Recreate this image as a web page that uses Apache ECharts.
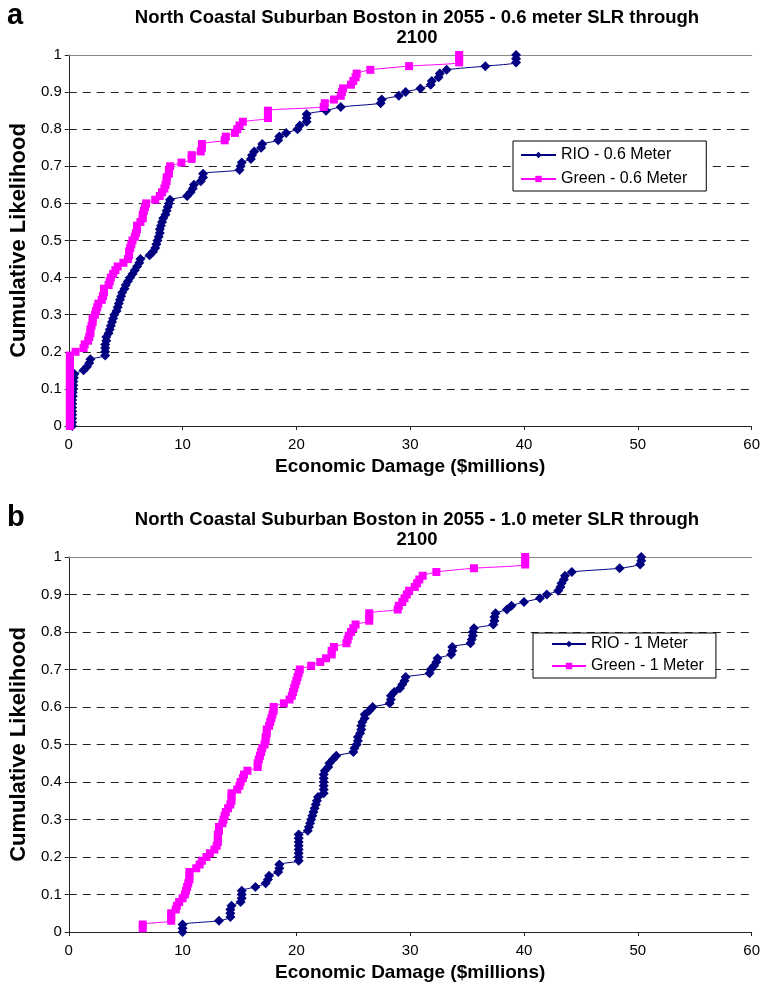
<!DOCTYPE html>
<html><head><meta charset="utf-8">
<script src="https://cdn.jsdelivr.net/npm/echarts@6/dist/echarts.min.js"></script>
<style>html,body{margin:0;padding:0;background:#fff}#c{width:763px;height:989px}</style>
</head><body><div id="c"></div>
<script>
const titleA = "North Coastal Suburban Boston in 2055 - 0.6 meter SLR through\n2100";
const titleB = "North Coastal Suburban Boston in 2055 - 1.0 meter SLR through\n2100";
const xAxisName = "Economic Damage ($millions)";
const yAxisName = "Cumulative Likelihood";
const seriesNamesA = ["RIO - 0.6 Meter", "Green - 0.6 Meter"];
const seriesNamesB = ["RIO - 1 Meter", "Green - 1 Meter"];

const rioA = [[0.3,0],[0.3,0.01],[0.3,0.02],[0.3,0.03],[0.3,0.04],[0.3,0.05],[0.3,0.06],[0.3,0.07],[0.35,0.08],[0.35,0.09],[0.4,0.10],[0.4,0.11],[0.4,0.12],[0.45,0.13],[0.5,0.14],[1.3,0.15],[1.6,0.16],[1.8,0.17],[1.9,0.18],[3.2,0.19],[3.2,0.20],[3.2,0.21],[3.2,0.22],[3.3,0.23],[3.3,0.24],[3.5,0.25],[3.6,0.26],[3.7,0.27],[3.8,0.28],[3.9,0.29],[4.0,0.30],[4.2,0.31],[4.3,0.32],[4.4,0.33],[4.5,0.34],[4.6,0.35],[4.7,0.36],[4.9,0.37],[5.0,0.38],[5.2,0.39],[5.4,0.40],[5.6,0.41],[5.8,0.42],[6.0,0.43],[6.2,0.44],[6.3,0.45],[7.1,0.46],[7.4,0.47],[7.6,0.48],[7.7,0.49],[7.8,0.50],[7.9,0.51],[8.0,0.52],[8.0,0.53],[8.1,0.54],[8.2,0.55],[8.3,0.56],[8.5,0.57],[8.6,0.58],[8.7,0.59],[8.8,0.60],[8.9,0.61],[10.4,0.62],[10.7,0.63],[10.9,0.64],[11.0,0.65],[11.6,0.66],[11.8,0.67],[11.8,0.68],[15.0,0.69],[15.1,0.70],[15.2,0.71],[16.0,0.72],[16.1,0.73],[16.3,0.74],[16.9,0.75],[17.0,0.76],[18.4,0.77],[18.5,0.78],[19.1,0.79],[20.1,0.80],[20.3,0.81],[20.9,0.82],[20.9,0.83],[20.9,0.84],[22.6,0.85],[23.9,0.86],[27.4,0.87],[27.5,0.88],[29.0,0.89],[29.6,0.90],[30.9,0.91],[31.8,0.92],[31.9,0.93],[32.5,0.94],[32.6,0.95],[33.2,0.96],[36.6,0.97],[39.3,0.98],[39.3,0.99],[39.3,1.0]];

const greenA = [[0.1,0],[0.1,0.01],[0.1,0.02],[0.1,0.03],[0.1,0.04],[0.1,0.05],[0.1,0.06],[0.1,0.07],[0.1,0.08],[0.1,0.09],[0.1,0.10],[0.1,0.11],[0.1,0.12],[0.1,0.13],[0.1,0.14],[0.1,0.15],[0.1,0.16],[0.1,0.17],[0.1,0.18],[0.1,0.19],[0.6,0.20],[1.3,0.21],[1.4,0.22],[1.7,0.23],[1.8,0.24],[1.9,0.25],[1.9,0.26],[2.0,0.27],[2.1,0.28],[2.1,0.29],[2.3,0.30],[2.4,0.31],[2.5,0.32],[2.6,0.33],[2.9,0.34],[3.0,0.35],[3.1,0.36],[3.1,0.37],[3.5,0.38],[3.6,0.39],[3.7,0.40],[3.9,0.41],[4.1,0.42],[4.3,0.43],[4.8,0.44],[5.2,0.45],[5.3,0.46],[5.3,0.47],[5.4,0.48],[5.5,0.49],[5.6,0.50],[5.8,0.51],[5.9,0.52],[6.0,0.53],[6.0,0.54],[6.3,0.55],[6.5,0.56],[6.5,0.57],[6.6,0.58],[6.7,0.59],[6.8,0.60],[7.6,0.61],[8.0,0.62],[8.2,0.63],[8.4,0.64],[8.5,0.65],[8.6,0.66],[8.6,0.67],[8.8,0.68],[8.8,0.69],[8.9,0.70],[9.9,0.71],[10.8,0.72],[10.8,0.73],[11.6,0.74],[11.7,0.75],[11.7,0.76],[13.7,0.77],[13.8,0.78],[14.6,0.79],[14.8,0.80],[15.0,0.81],[15.3,0.82],[17.5,0.83],[17.5,0.84],[17.5,0.85],[22.4,0.86],[22.5,0.87],[23.3,0.88],[23.9,0.89],[24.0,0.90],[24.1,0.91],[24.8,0.92],[25.0,0.93],[25.2,0.94],[25.3,0.95],[26.5,0.96],[29.9,0.97],[34.3,0.98],[34.3,0.99],[34.3,1.0]];

const rioB = [[10.0,0.0],[10.0,0.01],[10.0,0.02],[13.2,0.03],[14.2,0.04],[14.2,0.05],[14.2,0.06],[14.3,0.07],[15.1,0.08],[15.2,0.09],[15.2,0.10],[15.2,0.11],[16.4,0.12],[17.3,0.13],[17.5,0.14],[17.6,0.15],[18.4,0.16],[18.5,0.17],[18.5,0.18],[20.2,0.19],[20.2,0.20],[20.2,0.21],[20.2,0.22],[20.2,0.23],[20.2,0.24],[20.2,0.25],[20.2,0.26],[21.0,0.27],[21.1,0.28],[21.2,0.29],[21.3,0.30],[21.4,0.31],[21.5,0.32],[21.6,0.33],[21.7,0.34],[21.8,0.35],[21.9,0.36],[22.4,0.37],[22.4,0.38],[22.4,0.39],[22.4,0.40],[22.4,0.41],[22.4,0.42],[22.5,0.43],[22.8,0.44],[22.9,0.45],[23.2,0.46],[23.5,0.47],[25.0,0.48],[25.1,0.49],[25.3,0.50],[25.4,0.51],[25.4,0.52],[25.6,0.53],[25.7,0.54],[25.7,0.55],[25.8,0.56],[26.0,0.57],[26.0,0.58],[26.4,0.59],[26.7,0.60],[28.2,0.61],[28.3,0.62],[28.3,0.63],[28.6,0.64],[29.1,0.65],[29.3,0.66],[29.5,0.67],[29.6,0.68],[31.7,0.69],[31.8,0.70],[32.1,0.71],[32.3,0.72],[32.4,0.73],[33.6,0.74],[33.7,0.75],[33.7,0.76],[35.3,0.77],[35.4,0.78],[35.5,0.79],[35.5,0.80],[35.6,0.81],[37.3,0.82],[37.4,0.83],[37.4,0.84],[37.5,0.85],[38.5,0.86],[38.9,0.87],[40.0,0.88],[41.4,0.89],[42.0,0.90],[43.0,0.91],[43.2,0.92],[43.3,0.93],[43.5,0.94],[43.6,0.95],[44.2,0.96],[48.4,0.97],[50.2,0.98],[50.3,0.99],[50.3,1.0]];

const greenB = [[6.5,0.01],[6.5,0.02],[9.0,0.03],[9.0,0.04],[9.0,0.05],[9.4,0.06],[9.5,0.07],[9.7,0.08],[10.0,0.09],[10.2,0.10],[10.3,0.11],[10.4,0.12],[10.5,0.13],[10.6,0.14],[10.6,0.15],[10.6,0.16],[11.2,0.17],[11.5,0.18],[11.7,0.19],[12.1,0.20],[12.4,0.21],[12.8,0.22],[13.0,0.23],[13.1,0.24],[13.1,0.25],[13.1,0.26],[13.2,0.27],[13.2,0.28],[13.5,0.29],[13.6,0.30],[13.7,0.31],[13.8,0.32],[14.0,0.33],[14.2,0.34],[14.3,0.35],[14.3,0.36],[14.3,0.37],[14.8,0.38],[15.0,0.39],[15.1,0.40],[15.3,0.41],[15.4,0.42],[15.7,0.43],[16.6,0.44],[16.6,0.45],[16.7,0.46],[16.8,0.47],[16.9,0.48],[17.0,0.49],[17.2,0.50],[17.3,0.51],[17.3,0.52],[17.4,0.53],[17.4,0.54],[17.6,0.55],[17.7,0.56],[17.8,0.57],[17.9,0.58],[18.0,0.59],[18.0,0.60],[18.9,0.61],[19.4,0.62],[19.6,0.63],[19.7,0.64],[19.8,0.65],[19.9,0.66],[20.0,0.67],[20.1,0.68],[20.2,0.69],[20.3,0.70],[21.3,0.71],[22.1,0.72],[22.6,0.73],[23.1,0.74],[23.1,0.75],[23.3,0.76],[24.4,0.77],[24.5,0.78],[24.6,0.79],[24.8,0.80],[25.0,0.81],[25.2,0.82],[26.4,0.83],[26.4,0.84],[26.4,0.85],[28.9,0.86],[29.0,0.87],[29.3,0.88],[29.5,0.89],[29.7,0.90],[29.9,0.91],[30.4,0.92],[30.6,0.93],[30.8,0.94],[31.1,0.95],[32.3,0.96],[35.6,0.97],[40.1,0.98],[40.1,0.99],[40.1,1.0]];

const FONT = '"Liberation Sans", Arial, sans-serif';
const NAVY = '#000080', MAG = '#FF00FF';

function xAx(gi){
  return {gridIndex: gi, type:'value', min:0, max:60, interval:10,
    name: xAxisName, nameLocation:'middle', nameGap:31,
    nameTextStyle:{fontFamily:FONT, fontWeight:'bold', fontSize:19, color:'#000'},
    axisLine:{show:true, onZero:false, lineStyle:{color:'#222', width:1}},
    axisTick:{show:true, length:4, lineStyle:{color:'#222'}},
    axisLabel:{fontFamily:FONT, fontSize:15, color:'#000', margin:11},
    splitLine:{show:false}};
}
function xTop(gi){
  return {gridIndex: gi, type:'value', min:0, max:60, position:'top',
    axisLine:{show:true, onZero:false, lineStyle:{color:'#8a8a8a', width:1}},
    axisTick:{show:false}, axisLabel:{show:false}, splitLine:{show:false}};
}
function yAx(gi){
  return {gridIndex: gi, type:'value', min:0, max:1, interval:0.1,
    name: yAxisName, nameLocation:'middle', nameGap:38,
    nameTextStyle:{fontFamily:FONT, fontWeight:'bold', fontSize:22, color:'#000'},
    axisLine:{show:true, lineStyle:{color:'#222', width:1}},
    axisTick:{show:true, length:4, lineStyle:{color:'#222'}},
    axisLabel:{fontFamily:FONT, fontSize:15, color:'#000', margin:7,
      formatter: v => String(Math.round(v*10)/10)},
    splitLine:{show:true, lineStyle:{color:'#222', type:[8,6], width:1}}};
}
function ser(name, data, gi, color, symbol, size){
  return {name, type:'line', xAxisIndex:gi, yAxisIndex:gi, data,
    smooth:0.25, symbol, symbolSize:size, showSymbol:true,
    lineStyle:{color, width:1}, itemStyle:{color}, z:3, animation:false};
}

const chart = echarts.init(document.getElementById('c'), null, {renderer:'canvas'});
chart.setOption({
  backgroundColor:'#fff',
  animation:false,
  title:[
    {text: titleA, left: 412, top: 3, textAlign:'center',
     textStyle:{fontFamily:FONT, fontWeight:'bold', fontSize:18.5, color:'#000', lineHeight:20}},
    {text: titleB, left: 412, top: 505, textAlign:'center',
     textStyle:{fontFamily:FONT, fontWeight:'bold', fontSize:18.5, color:'#000', lineHeight:20}}
  ],
  graphic:[
    {type:'text', left:7, top:1, style:{text:'a', font:'bold 29px "Liberation Sans", Arial, sans-serif', fill:'#000'}},
    {type:'text', left:7, top:503, style:{text:'b', font:'bold 29px "Liberation Sans", Arial, sans-serif', fill:'#000'}}
  ],
  grid:[
    {left:68, top:55, width:687, height:371, show:false},
    {left:68, top:557, width:687, height:375, show:false}
  ],
  xAxis:[xAx(0), xAx(1), xTop(0), xTop(1)],
  yAxis:[yAx(0), yAx(1)],
  legend:[
    {data:seriesNamesA, orient:'vertical', left:513, top:141, backgroundColor:'#fff',
     borderColor:'#000', borderWidth:1, padding:[6,19,4,7], itemGap:8, itemWidth:35, itemHeight:8,
     textStyle:{fontFamily:FONT, fontSize:16, color:'#000'}},
    {data:seriesNamesB, orient:'vertical', left:533, top:633, backgroundColor:'#fff',
     borderColor:'#000', borderWidth:1, padding:[3,12,4,18], itemGap:6, itemWidth:34, itemHeight:8,
     textStyle:{fontFamily:FONT, fontSize:16, color:'#000'}}
  ],
  series:[
    ser(seriesNamesA[0], rioA, 0, NAVY, 'diamond', 10),
    ser(seriesNamesA[1], greenA, 0, MAG, 'rect', 8),
    ser(seriesNamesB[0], rioB, 1, NAVY, 'diamond', 10),
    ser(seriesNamesB[1], greenB, 1, MAG, 'rect', 8)
  ]
});
</script></body></html>
